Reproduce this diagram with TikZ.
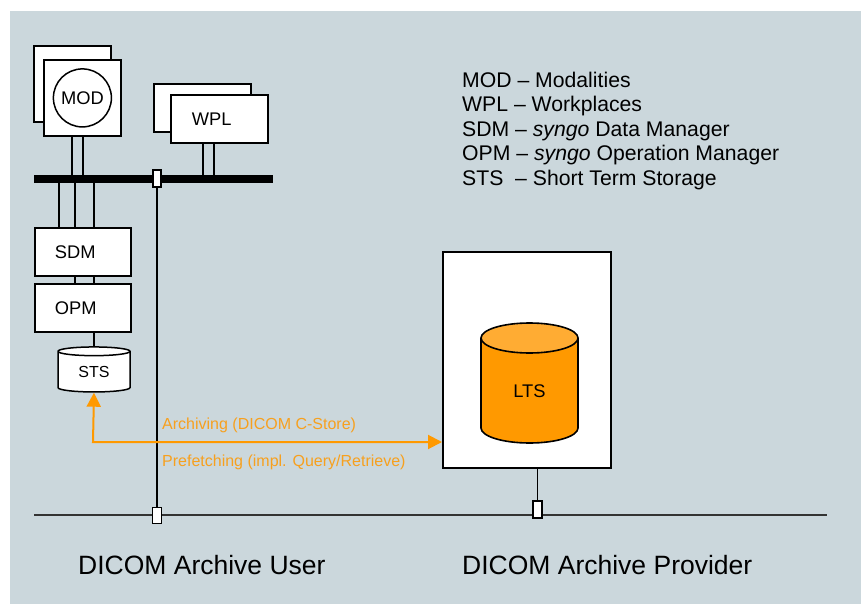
\documentclass[tikz,border=0pt]{standalone}
\usepackage{fontspec}
\setmainfont{Liberation Sans}
\usetikzlibrary{shapes.geometric,arrows.meta}
\definecolor{panel}{RGB}{203,215,220}
\definecolor{flow}{RGB}{255,153,0}
\definecolor{flowtext}{RGB}{247,160,30}
\definecolor{ltsbody}{RGB}{255,153,0}
\definecolor{ltstop}{RGB}{255,172,51}
\tikzset{
  box/.style={draw=black, line width=1.8pt, fill=white, inner sep=0pt},
  wire/.style={draw=black, line width=1.8pt},
  port/.style={draw=black, line width=1.1pt, fill=white, inner sep=0pt},
  lan/.style={draw=black!80, line width=1.3pt},
  flowline/.style={draw=flow, line width=2pt, {Triangle[length=14pt,width=14pt]}-{Triangle[length=14pt,width=14pt]}},
  flowlabel/.style={text=flowtext, font=\fontsize{16}{19}\selectfont, anchor=base west, inner sep=0pt},
  boxfont/.style={font=\fontsize{18.3}{21}\selectfont},
  drum/.style={draw=black, line width=1.6pt},
}
\begin{document}
\begin{tikzpicture}[x=1pt,y=-1pt]
\useasboundingbox (0,0) rectangle (861,604);
\fill[white] (0,0) rectangle (861,604);
\fill[panel] (10,11) rectangle (861,604);

% LAN at the bottom
\coordinate (lanL) at (34,515);
\coordinate (lanR) at (827,515);
\draw[lan] (lanL) -- (lanR);

% modalities
\node[box, minimum width=77pt, minimum height=76pt, anchor=north west] (modb) at (33,45) {};
\node[box, minimum width=77pt, minimum height=76pt, anchor=north west] (modf) at (43,59) {};
\node[circle, draw=black, line width=1.5pt, fill=white, minimum size=58pt, inner sep=0pt, boxfont] (mod) at (modf.center) {MOD};

% workplaces
\node[box, minimum width=97pt, minimum height=48pt, anchor=north west] (wplb) at (153,83) {};
\node[box, minimum width=97pt, minimum height=48pt, anchor=north west, text width=55pt, inner xsep=21pt, align=left, boxfont] (wpl) at (170,94) {WPL};

% backbone bus
\node[fill=black, minimum width=239pt, minimum height=8pt, inner sep=0pt, anchor=west] (bus) at (34,179) {};

% SDM / OPM / STS stack
\node[box, minimum width=96pt, minimum height=48pt, anchor=north west, text width=56pt, inner xsep=20pt, align=left, boxfont] (sdm) at (34,227) {SDM};
\node[box, minimum width=96pt, minimum height=48pt, anchor=north west, text width=56pt, inner xsep=20pt, align=left, boxfont] (opm) at (34,283) {OPM};
\node[cylinder, shape border rotate=90, draw=black, line width=1.5pt, fill=white, minimum width=72pt, minimum height=45pt, aspect=0.28, inner sep=0pt, font=\fontsize{16}{19}\selectfont] (sts) at (94,372) {STS};

% wires from devices to the bus
\draw[wire] ([xshift=-10.5pt]modf.south) -- ([xshift=-10.5pt]modf.south |- bus.north);
\draw[wire] ([xshift=0.5pt]modf.south) -- ([xshift=0.5pt]modf.south |- bus.north);
\draw[wire] ([xshift=-16.5pt]wpl.south) -- ([xshift=-16.5pt]wpl.south |- bus.north);
\draw[wire] ([xshift=-5.5pt]wpl.south) -- ([xshift=-5.5pt]wpl.south |- bus.north);
\draw[wire] ([xshift=-24pt]sdm.north) -- ([xshift=-24pt]sdm.north |- bus.south);
\draw[wire] ([xshift=-8pt]sdm.north) -- ([xshift=-8pt]sdm.north |- bus.south);
\draw[wire] ([xshift=11pt]sdm.north) -- ([xshift=11pt]sdm.north |- bus.south);
\draw[wire] ([xshift=-8pt]sdm.south) -- ([xshift=-8pt]opm.north);
\draw[wire] ([xshift=11pt]sdm.south) -- ([xshift=11pt]opm.north);
\draw[wire] ([xshift=11pt]opm.south) -- (sts.north);

% archive provider with long term storage drum
\node[box, minimum width=168pt, minimum height=216pt, anchor=north west] (prov) at (442,251) {};
\fill[ltsbody] (481,338) -- (481,428) arc[start angle=180, end angle=0, x radius=48.5, y radius=15] -- (578,338) -- cycle;
\draw[drum] (481,338) -- (481,428) arc[start angle=180, end angle=0, x radius=48.5, y radius=15] -- (578,338);
\filldraw[drum, fill=ltstop] (529.5,338) ellipse[x radius=48.5, y radius=15];
\node[boxfont, inner sep=0pt] (lts) at (529.5,391) {LTS};

% ports on the networks
\node[port, minimum width=8pt, minimum height=17pt] (busport) at (157,178.5) {};
\node[port, minimum width=9pt, minimum height=16pt] (userport) at (157,515.5) {};
\node[port, minimum width=9pt, minimum height=17pt] (provport) at (537.5,509.5) {};
\draw[wire, line width=1.6pt] (busport.south) -- (userport.north);
\draw[wire, line width=1.6pt] (provport.north |- prov.south) -- (provport.north);

% data flow between short and long term storage
\coordinate (bend) at (93,442);
\draw[flowline] (sts.south) -- (bend) -- (bend -| prov.west);
\node[flowlabel] (arch) at (162,429) {Archiving (DICOM C-Store)};
\node[flowlabel] (pref) at (162,466) {Prefetching (impl. Query/Retrieve)};

% legend
\node[anchor=north west, inner sep=0pt, align=left, font=\fontsize{21.2}{24.5}\selectfont] (legend) at (462,71.5)
  {MOD – Modalities\\
   WPL – Workplaces\\
   SDM – \textit{syngo} Data Manager\\
   OPM – \textit{syngo} Operation Manager\\
   STS\ \ – Short Term Storage};

% captions
\node[anchor=base west, inner sep=0pt, font=\fontsize{26.5}{30}\selectfont] (user) at (78,574) {DICOM Archive User};
\node[anchor=base west, inner sep=0pt, font=\fontsize{26.5}{30}\selectfont] (provider) at (462,574) {DICOM Archive Provider};
\end{tikzpicture}
\end{document}
